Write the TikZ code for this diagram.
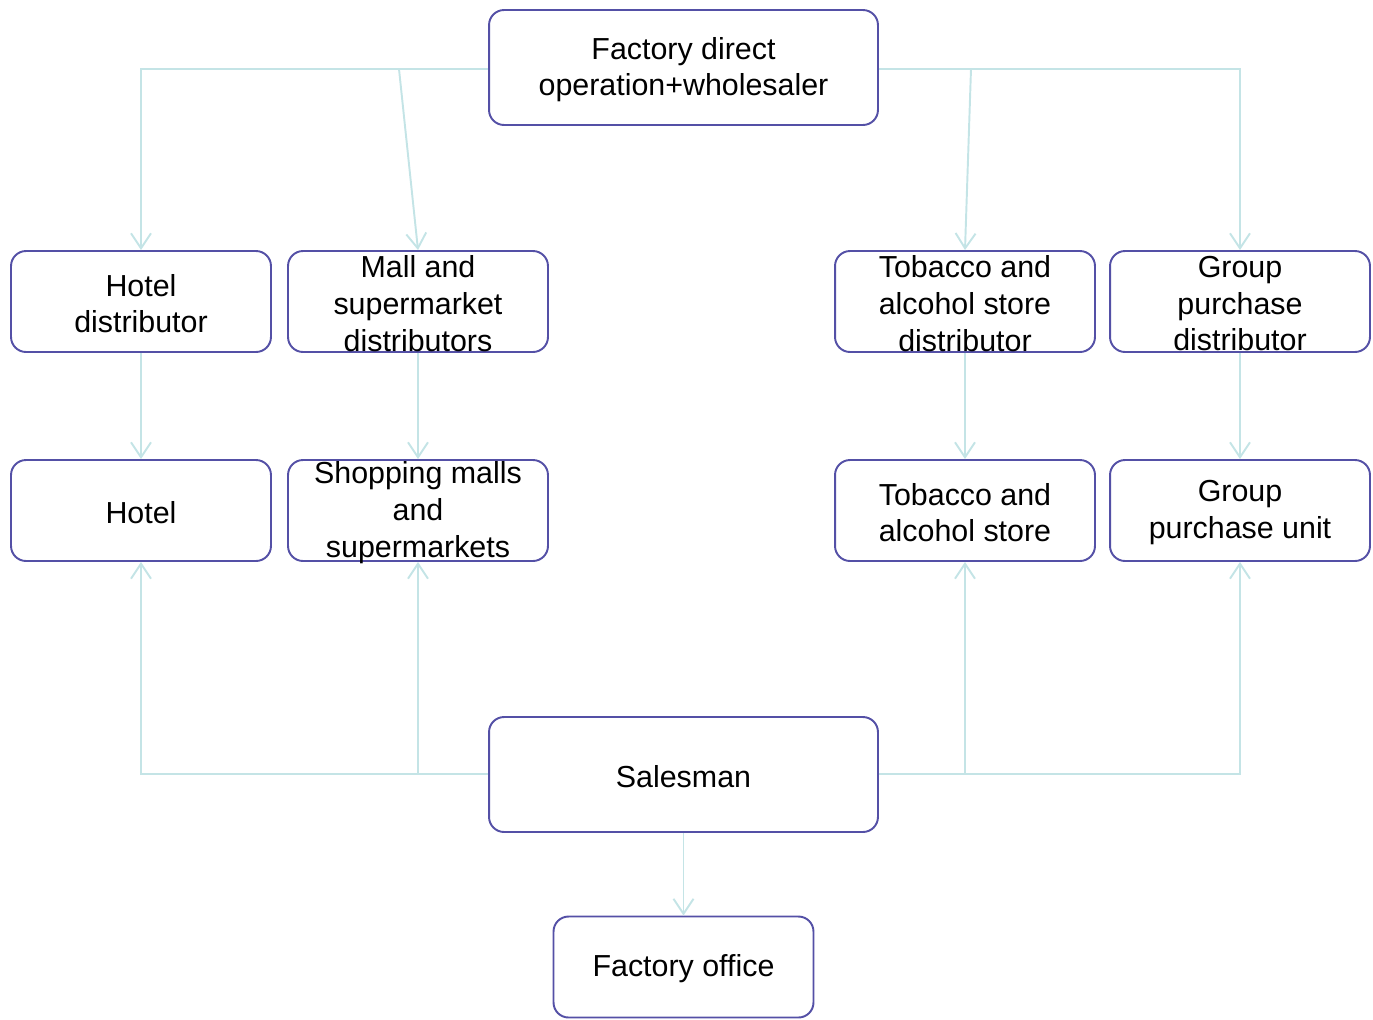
\documentclass[tikz,border=0pt]{standalone}
\usepackage{fontspec}
\setmainfont{Liberation Sans}
\usetikzlibrary{arrows.meta}
\definecolor{boxline}{HTML}{5450A6}
\definecolor{conn}{HTML}{C4E4E6}
\begin{document}
\begin{tikzpicture}[x=0.02cm,y=-0.02cm,
  box/.style={draw=boxline,line width=1.1pt,rounded corners=0.3cm,fill=white,inner sep=0pt},
  smallbox/.style={box,minimum width=5.2cm,minimum height=2.02cm},
  bigbox/.style={box,minimum width=7.78cm,minimum height=2.3cm},
  txt/.style={align=center,font=\fontsize{17.3pt}{21pt}\selectfont,inner sep=0pt,yshift=-1.2pt},
  conn/.style={draw=conn,line width=1.1pt},
  arr/.style={conn,-{Straight Barb[length=0.3cm,width=0.4cm,line width=1.1pt]}}]
\useasboundingbox (0,0) rectangle (1373,1019);
% boxes
\node[bigbox] (top) at (683.5,67.5) {};
\node[txt] (toptxt) at (top) {Factory direct\\operation+wholesaler};
\node[smallbox] (hd) at (141,301.5) {};
\node[txt] (hdtxt) at (hd) {Hotel\\distributor};
\node[smallbox] (md) at (418,301.5) {};
\node[txt] (mdtxt) at (md) {Mall and\\supermarket\\distributors};
\node[smallbox] (td) at (965,301.5) {};
\node[txt] (tdtxt) at (td) {Tobacco and\\alcohol store\\distributor};
\node[smallbox] (gd) at (1240,301.5) {};
\node[txt] (gdtxt) at (gd) {Group\\purchase\\distributor};
\node[smallbox] (h) at (141,510.5) {};
\node[txt] (htxt) at (h) {Hotel};
\node[smallbox] (m) at (418,510.5) {};
\node[txt] (mtxt) at (m) {Shopping malls\\and\\supermarkets};
\node[smallbox] (t) at (965,510.5) {};
\node[txt] (ttxt) at (t) {Tobacco and\\alcohol store};
\node[smallbox] (g) at (1240,510.5) {};
\node[txt] (gtxt) at (g) {Group\\purchase unit};
\node[bigbox] (s) at (683.5,774.5) {};
\node[txt] (stxt) at (s) {Salesman};
\node[smallbox] (f) at (683.5,967) {};
\node[txt] (ftxt) at (f) {Factory office};
% junction coordinates
\coordinate (tl) at (399,69);
\coordinate (tr) at (971,69);
\coordinate (sl) at (418,774);
\coordinate (sr) at (965,774);
% connectors from top
\draw[arr] (top.west |- 0,69) -| (hd.north);
\draw[arr] (tl) -- (md.north);
\draw[arr] (top.east |- 0,69) -| (gd.north);
\draw[arr] (tr) -- (td.north);
% distributor to outlets
\draw[arr] (hd.south) -- (h.north);
\draw[arr] (md.south) -- (m.north);
\draw[arr] (td.south) -- (t.north);
\draw[arr] (gd.south) -- (g.north);
% salesman
\draw[arr] (s.west |- 0,774) -| (h.south);
\draw[arr] (sl) -- (m.south);
\draw[arr] (s.east |- 0,774) -| (g.south);
\draw[arr] (sr) -- (t.south);
\draw[arr] (s.south) -- (f.north);
\end{tikzpicture}
\end{document}
